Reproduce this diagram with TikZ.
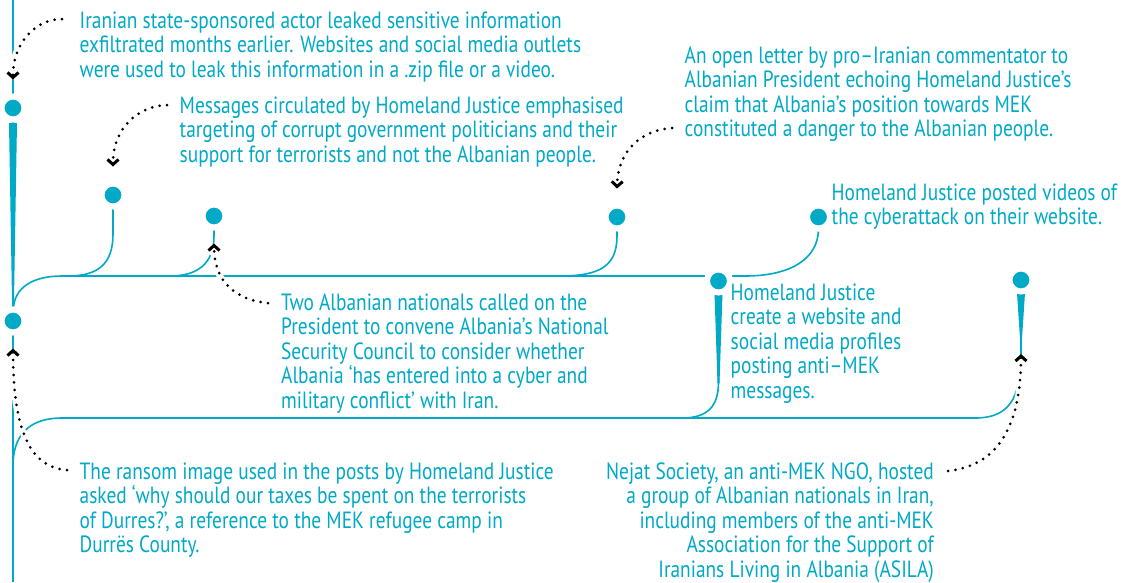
\documentclass[tikz,border=0pt]{standalone}
\usepackage{fontspec}
\setmainfont{PT Sans}[FakeStretch=0.825]
\usepackage{tikz}
\usetikzlibrary{arrows.meta, calc, backgrounds}
\definecolor{albblue}{RGB}{0,169,198}

\begin{document}
\begin{tikzpicture}[
			x=1pt, y=-1pt,
			dot/.style={circle, fill=albblue, draw=white, line width=6pt, minimum size=23pt, inner sep=0pt, outer sep=0pt},
			trunk/.style={albblue, line width=1.6pt},
			spike/.style={fill=albblue},
			blurb/.style={text=albblue, inner sep=0pt, font=\fontsize{23.5}{24.5}\selectfont},
			hint/.style={line width=3pt, line cap=round, dash pattern=on 0pt off 7.5pt,
				-{Straight Barb[length=5pt, width=11pt]},
				preaction={draw=white, solid, line width=6.5pt, -{Straight Barb[length=5pt, width=11pt]}}}
		]
		\useasboundingbox (0,0) rectangle (1130,582);
		
		% Events
		\node[dot] (leak) at (13,108) {};
		\node[dot] (ransom) at (13,321) {};
		\node[dot] (msgs) at (113,195) {};
		\node[dot] (call) at (214,216) {};
		\node[dot] (letter) at (617,217) {};
		\node[dot] (site) at (718.5,281) {};
		\node[dot] (videos) at (818.5,217) {};
		\node[dot] (nejat) at (1021,280) {};
		\coordinate (top) at (13,0);
		\coordinate (foot) at (13,582);
		\coordinate (nejattip) at (1021,354);
		
		% Texts (anchored at the last baseline)
		\node[blurb, anchor=base west, align=left] (leaktxt) at (79.5,77) {Iranian state-sponsored actor leaked sensitive information\\exfiltrated months earlier. Websites and social media outlets\\were used to leak this information in a .zip file or a video.};
		\node[blurb, anchor=base west, align=left] (msgstxt) at (179.5,162) {Messages circulated by Homeland Justice emphasised\\targeting of corrupt government politicians and their\\support for terrorists and not the Albanian people.};
		\node[blurb, anchor=base west, align=left] (lettertxt) at (684.5,136.5) {An open letter by pro–Iranian commentator to\\Albanian President echoing Homeland Justice’s\\claim that Albania’s position towards MEK\\constituted a danger to the Albanian people.};
		\node[blurb, anchor=base west, align=left] (videostxt) at (831.5,224.5) {Homeland Justice posted videos of\\the cyberattack on their website.};
		\node[blurb, anchor=base west, align=left] (sitetxt) at (730.5,398) {Homeland Justice\\create a website and\\social media profiles\\posting anti–MEK\\messages.};
		\node[blurb, anchor=base west, align=left] (calltxt) at (281,408) {Two Albanian nationals called on the\\President to convene Albania’s National\\Security Council to consider whether\\Albania ‘has entered into a cyber and\\military conflict’ with Iran.};
		\node[blurb, anchor=base west, align=left] (ransomtxt) at (79.5,552.5) {The ransom image used in the posts by Homeland Justice\\asked ‘why should our taxes be spent on the terrorists\\of Durres?’, a reference to the MEK refugee camp in\\Durrës County.};
		\node[blurb, anchor=base east, align=right] (nejattxt) at (934,577) {Nejat Society, an anti-MEK NGO, hosted\\a group of Albanian nationals in Iran,\\including members of the anti-MEK\\Association for the Support of\\Iranians Living in Albania (ASILA)};
		
		% Timeline
		\begin{scope}[on background layer]
			\draw[trunk] (top) -- (leak) -- (ransom) -- (foot);
			\fill[spike] ($(leak)+(-4,15)$) -- ($(leak)+(4,15)$) -- ($(leak)+(1,192)$) -- ($(leak)+(-1,192)$) -- cycle;
			\draw[trunk] (ransom) .. controls (14,288) and (32,276) .. (62,276) -- (745,276) .. controls (792,276) and (818.5,258) .. (videos);
			\draw[trunk] (msgs) -- (113,234) .. controls (113,264) and (98,276) .. (68,276);
			\draw[trunk] (call) -- (214,236) .. controls (214,264) and (197,276) .. (170,276);
			\draw[trunk] (letter) -- (617,236) .. controls (617,266) and (600,276) .. (560,276);
			\fill[spike] ($(site)+(-4,12)$) -- ($(site)+(4,12)$) -- ($(site)+(1,102)$) -- ($(site)+(-1,102)$) -- cycle;
			\draw[trunk] (site) -- (718.5,382) .. controls (718.5,406) and (708,418) .. (682,418);
			\draw[trunk] (13,466) .. controls (13,436) and (28,418) .. (62,418) -- (975,418) .. controls (1008,418) and (1021,400) .. (nejattip) -- (nejat);
			\fill[spike] ($(nejat)+(-4,13)$) -- ($(nejat)+(4,13)$) -- (nejattip) -- cycle;
		\end{scope}
		
		% Pointers
		\coordinate (leakfrom) at (62,19);
		\coordinate (msgsfrom) at (167,105);
		\coordinate (callfrom) at (268,303);
		\coordinate (letterfrom) at (672,128);
		\coordinate (ransomfrom) at (67,470);
		\coordinate (nejatfrom) at (948,471);
		\draw[hint] (leakfrom) .. controls (38,19) and (13,40) .. ([yshift=17pt]leak.north);
		\draw[hint] (msgsfrom) .. controls (138,106) and (113,128) .. ([yshift=17pt]msgs.north);
		\draw[hint] (letterfrom) .. controls (642,130) and (618,150) .. ([yshift=17pt]letter.north);
		\draw[hint] (callfrom) .. controls (236,300) and (214,282) .. ([yshift=-16pt]call.south);
		\draw[hint] (ransomfrom) .. controls (35,468) and (13,440) .. ([yshift=-16pt]ransom.south);
		\draw[hint] (nejatfrom) .. controls (995,466) and (1021,430) .. (nejattip);
		
		\end{tikzpicture}
\end{document}
